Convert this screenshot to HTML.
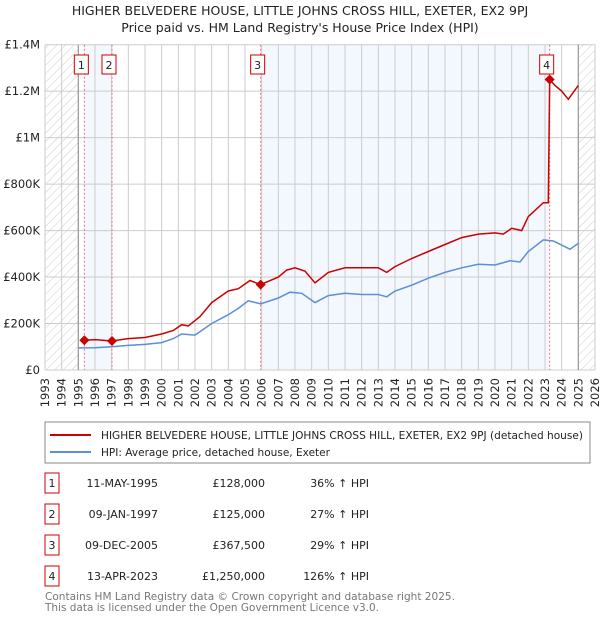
<!DOCTYPE html>
<html><head><meta charset="utf-8"><style>
body{margin:0;background:#fff;font-family:"DejaVu Sans","Liberation Sans",sans-serif;}
svg text{font-family:"DejaVu Sans","Liberation Sans",sans-serif;}
</style></head><body>
<svg id="chart" width="600" height="620" xmlns="http://www.w3.org/2000/svg">
<defs><pattern id="hatch" width="6" height="6" patternUnits="userSpaceOnUse" patternTransform="rotate(45)"><line x1="0" y1="0" x2="0" y2="6" stroke="#ccc" stroke-width="1"/></pattern></defs>
<text x="300" y="15" text-anchor="middle" font-size="12.5" fill="#222">HIGHER BELVEDERE HOUSE, LITTLE JOHNS CROSS HILL, EXETER, EX2 9PJ</text>
<text x="300" y="32" text-anchor="middle" font-size="12.5" fill="#222">Price paid vs. HM Land Registry's House Price Index (HPI)</text>
<g id="plot"></g>
<rect x="45" y="422" width="545" height="41" fill="#fff" stroke="#888"/>
<line x1="50" y1="435" x2="91" y2="435" stroke="#cc0000" stroke-width="2"/>
<text x="101" y="439" font-size="10.5" textLength="482" lengthAdjust="spacingAndGlyphs" fill="#222">HIGHER BELVEDERE HOUSE, LITTLE JOHNS CROSS HILL, EXETER, EX2 9PJ (detached house)</text>
<line x1="50" y1="452" x2="91" y2="452" stroke="#5b8fd6" stroke-width="2"/>
<text x="101" y="456" font-size="10.5" textLength="229" lengthAdjust="spacingAndGlyphs" fill="#222">HPI: Average price, detached house, Exeter</text>
<g id="table" font-size="11" fill="#222"></g>
<text x="45" y="600" font-size="10.5" textLength="410" lengthAdjust="spacingAndGlyphs" fill="#777">Contains HM Land Registry data © Crown copyright and database right 2025.</text>
<text x="45" y="611" font-size="10.5" textLength="334" lengthAdjust="spacingAndGlyphs" fill="#777">This data is licensed under the Open Government Licence v3.0.</text>
</svg>
<script>
const hpiYears=[1995,1996,1997,1998,1999,2000,2000.7,2001.2,2002,2003,2004,2004.6,2005.2,2005.94,2007,2007.7,2008.4,2009.2,2010,2011,2012,2013,2013.5,2014,2015,2016,2017,2018,2019,2020,2020.9,2021.5,2022,2022.9,2023.5,2024.5,2025];
const hpiVals=[95000,96000,100000,106000,110000,118000,135000,155000,150000,200000,238000,265000,298000,285000,310000,335000,330000,290000,320000,330000,325000,325000,315000,340000,365000,395000,420000,440000,455000,452000,470000,465000,510000,560000,555000,520000,545000];
const ppYears=[1995.36,1996,1997.02,1998,1999,2000,2000.7,2001.2,2001.6,2002.3,2003,2004,2004.6,2005.3,2005.94,2007,2007.5,2008,2008.6,2009.2,2010,2011,2012,2013,2013.5,2014,2015,2016,2017,2018,2019,2020,2020.5,2021,2021.6,2022,2022.9,2023.2,2023.28,2023.6,2024,2024.4,2025];
const ppVals=[128000,131000,125000,135000,140000,155000,170000,195000,190000,230000,290000,340000,350000,385000,367500,400000,430000,440000,425000,375000,420000,440000,440000,440000,420000,445000,480000,510000,540000,570000,585000,590000,585000,610000,600000,660000,720000,720000,1250000,1225000,1200000,1165000,1225000];
const saleYears=[1995.36,1997.02,2005.94,2023.28];
const saleVals=[128000,125000,367500,1250000];
const saleLabels=["1","2","3","4"];
const saleDates=["11-MAY-1995","09-JAN-1997","09-DEC-2005","13-APR-2023"];
const salePrices=["£128,000","£125,000","£367,500","£1,250,000"];
const saleHpi=["36% ↑ HPI","27% ↑ HPI","29% ↑ HPI","126% ↑ HPI"];
const yTicks=[0,200000,400000,600000,800000,1000000,1200000,1400000];
const yTickLabels=["£0","£200K","£400K","£600K","£800K","£1M","£1.2M","£1.4M"];
const xStart=1993,xEnd=2026;
const L=45,R=595,T=44.7,B=370;
const X=v=>L+(v-xStart)/(xEnd-xStart)*(R-L);
const Y=v=>B-v/1400000*(B-T);
const NS="http://www.w3.org/2000/svg";
const g=document.getElementById('plot');
function mk(tag,attrs,parent){const e=document.createElementNS(NS,tag);for(const k in attrs)e.setAttribute(k,attrs[k]);(parent||g).appendChild(e);return e;}
let e;
e=mk('rect',{x:L,y:T,width:R-L,height:B-T,fill:'#fff'});


e=mk('rect',{x:X(saleYears[0]),y:T,width:X(saleYears[1])-X(saleYears[0]),height:B-T,fill:'#eef3fd',opacity:0.7});


e=mk('rect',{x:X(saleYears[2]),y:T,width:X(saleYears[3])-X(saleYears[2]),height:B-T,fill:'#eef3fd',opacity:0.7});


e=mk('rect',{x:L,y:T,width:X(1995)-L,height:B-T,fill:'url(#hatch)'});


e=mk('rect',{x:X(2025),y:T,width:R-X(2025),height:B-T,fill:'url(#hatch)'});


for(let yr=xStart;yr<=xEnd;yr++){
 e=mk('line',{x1:X(yr),x2:X(yr),y1:T,y2:B,stroke:'#ccc','stroke-width':1});
 
 
 e=mk('text',{x:0,y:0,transform:`translate(${X(yr)+4},${B+8}) rotate(-90)`,'text-anchor':'end','font-size':11.5,fill:'#222'});
 e.textContent=yr;
 
 
}
yTicks.forEach((v,i)=>{
 e=mk('line',{x1:L,x2:R,y1:Y(v),y2:Y(v),stroke:'#ccc','stroke-width':1});
 
 
 e=mk('text',{x:L-5,y:Y(v)+4,'text-anchor':'end','font-size':11.5,fill:'#222'});
 e.textContent=yTickLabels[i];
 
 
});
[1995,2025].forEach(yr=>{e=mk('line',{x1:X(yr),x2:X(yr),y1:T,y2:B,stroke:'#999','stroke-width':1.2});
 
 });
saleYears.forEach((yr,i)=>{
 e=mk('line',{x1:X(yr),x2:X(yr),y1:T,y2:B,stroke:'#f07070','stroke-width':1,'stroke-dasharray':'2,2'});
 
 
});
const path=(xs,vs)=>xs.map((x,i)=>(i?'L':'M')+X(x).toFixed(1)+','+Y(vs[i]).toFixed(1)).join('');
e=mk('path',{d:path(hpiYears,hpiVals),fill:'none',stroke:'#5b8fd6','stroke-width':1.5});


e=mk('path',{d:path(ppYears,ppVals),fill:'none',stroke:'#cc0000','stroke-width':1.5});


saleYears.forEach((yr,i)=>{
 const cx=X(yr),cy=Y(saleVals[i]);
 e=mk('path',{d:`M${cx},${cy-5}L${cx+5},${cy}L${cx},${cy+5}L${cx-5},${cy}Z`,fill:'#cc0000'});
 
 
 const bx=cx-3,by=55;
 e=mk('rect',{x:bx-7,y:by,width:14,height:19,fill:'#fff',stroke:'#cc0000'});
 
 
 e=mk('text',{x:bx,y:by+14,'text-anchor':'middle','font-size':11,fill:'#222'});
 e.textContent=saleLabels[i];
 
 
});
const t=document.getElementById('table');
saleLabels.forEach((lab,i)=>{
 const cy=483+i*31;
 e=mk('rect',{x:45,y:cy-10,width:14,height:20,fill:'#fff',stroke:'#cc0000'},t);
 
 
 e=mk('text',{x:52,y:cy+4,'text-anchor':'middle'},t);e.textContent=lab;
 
 
 e=mk('text',{x:158,y:cy+4,'text-anchor':'end'},t);e.textContent=saleDates[i];
 
 
 e=mk('text',{x:265,y:cy+4,'text-anchor':'end'},t);e.textContent=salePrices[i];
 
 
 e=mk('text',{x:369,y:cy+4,'text-anchor':'end'},t);e.textContent=saleHpi[i];
 
 
});
</script>
</body></html>
